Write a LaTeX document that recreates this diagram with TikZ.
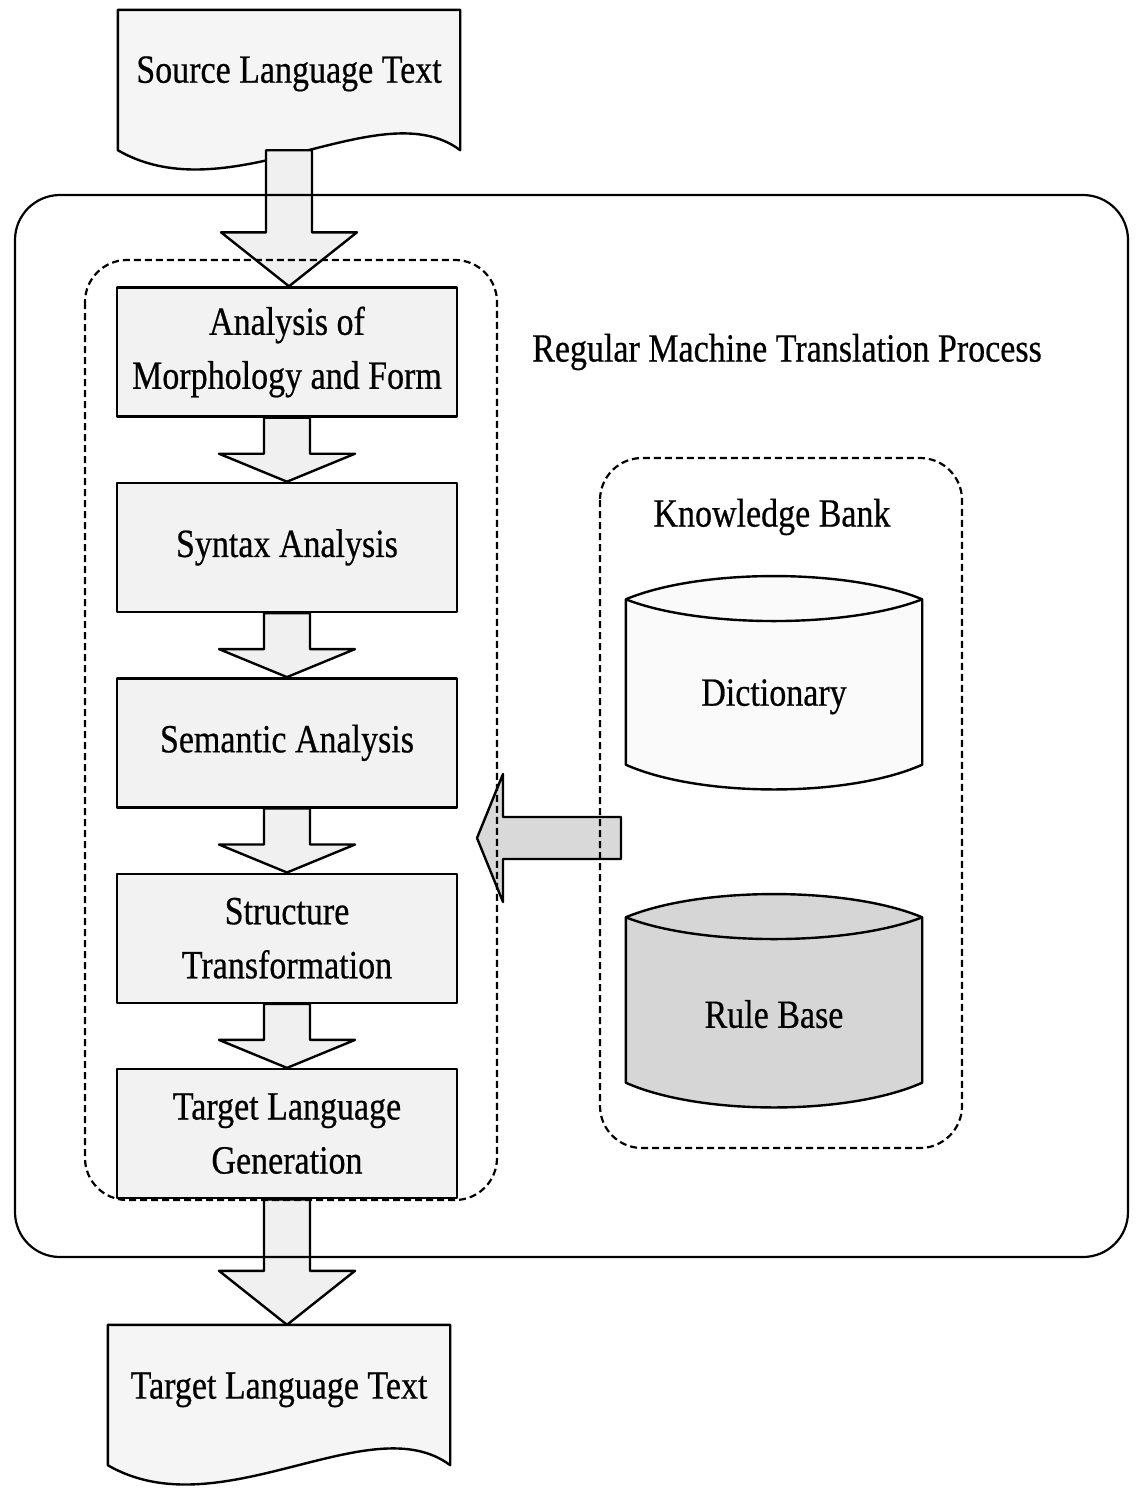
\documentclass[tikz,border=0pt]{standalone}
\usepackage{fontspec}
\setmainfont{Liberation Serif}[FakeStretch=0.85, FakeBold=0.5]
\usetikzlibrary{positioning,calc,backgrounds}

% block arrow pointing down: from, to, head length
\newcommand{\blockdown}[3]{%
  \draw[blockarrow] let \p1=(#1), \p2=(#2) in
    (\x1-23pt,\y1) -- (\x1-23pt,\y2+#3pt) -- (\x1-68pt,\y2+#3pt) -- (\x1,\y2)
    -- (\x1+68pt,\y2+#3pt) -- (\x1+23pt,\y2+#3pt) -- (\x1+23pt,\y1) -- cycle;}

% block arrow pointing left: style, from, to, head length
\newcommand{\blockleft}[4]{%
  \draw[blockarrow,#1] let \p1=(#2), \p2=(#3) in
    (\x1,\y1+21pt) -- (\x2+#4pt,\y1+21pt) -- (\x2+#4pt,\y1+64pt) -- (\x2,\y1)
    -- (\x2+#4pt,\y1-64pt) -- (\x2+#4pt,\y1-21pt) -- (\x1,\y1-21pt) -- cycle;}

% drum (stored data) round a node: node, fill
\newcommand{\drum}[2]{%
  \draw[outline, fill=#2] (#1.north west) .. controls +(74,-31) and +(-74,-31) .. (#1.north east)
    -- (#1.south east) .. controls +(-74,33) and +(74,33) .. (#1.south west) -- cycle;
  \draw[outline] (#1.north west) .. controls +(74,29) and +(-74,29) .. (#1.north east);}

\begin{document}
\begin{tikzpicture}[x=1pt, y=-1pt, node distance=64pt,
    every node/.style={font=\fontsize{40}{54}\selectfont},
    outline/.style={draw, line width=2.4pt, line join=round},
    process/.style={outline, fill=gray!10, minimum width=340pt, minimum height=129pt, align=center},
    docshape/.style={minimum width=342pt, minimum height=140pt, inner sep=0pt},
    drumshape/.style={minimum width=296pt, minimum height=165pt, inner sep=0pt},
    blockarrow/.style={outline, fill=gray!12},
    frame/.style={draw, line width=2.2pt, rounded corners=45pt},
    group/.style={draw, line width=2.2pt, dash pattern=on 7pt off 4pt, rounded corners=42pt}]
    \useasboundingbox (0,0) rectangle (1140,1489);

    % Nodes {src, processing steps, tgt}
    \node [docshape, text depth=21pt]   (src)      at (289,80)   {Source Language Text};
    \node [process]                     (morph)    at (287,352)  {Analysis of\\Morphology and Form};
    \node [process, below=of morph]     (syntax)                 {Syntax Analysis};
    \node [process, below=of syntax]    (semantic)               {Semantic Analysis};
    \node [process, below=of semantic]  (struct)                 {Structure\\Transformation};
    \node [process, below=of struct]    (gen)                    {Target Language\\Generation};
    \node [docshape, text depth=19pt]   (tgt)      at (279,1395) {Target Language Text};

    % Knowledge bank
    \node                               (title)    at (787,352)  {Regular Machine Translation Process};
    \node                               (kbtitle)  at (772,517)  {Knowledge Bank};
    \node [drumshape, text height=56pt] (dict)     at (774,682)  {Dictionary};
    \node [drumshape, text height=56pt] (rules)    at (774,1000) {Rule Base};
    \coordinate (kbout) at (621,838);
    \coordinate (kbin)  at (477,838);

    % Outlines behind the texts
    \begin{scope}[on background layer]
    \draw [outline, fill=gray!8] (src.north west) -- (src.north east) -- (src.south east)
        .. controls +(-80,-60) and +(112,65) .. (src.south west) -- cycle;
    \draw [outline, fill=gray!8] (tgt.north west) -- (tgt.north east) -- (tgt.south east)
        .. controls +(-80,-60) and +(112,65) .. (tgt.south west) -- cycle;
    \drum{dict}{gray!4}
    \drum{rules}{gray!32}
    \end{scope}

    % Paths
    \blockdown{src.south}{morph.north}{54}
    \blockdown{morph.south}{syntax.north}{28}
    \blockdown{syntax.south}{semantic.north}{28}
    \blockdown{semantic.south}{struct.north}{28}
    \blockdown{struct.south}{gen.north}{28}
    \blockdown{gen.south}{tgt.north}{54}
    \blockleft{fill=gray!30}{kbout}{kbin}{26}

    % Frames
    \draw [frame] (15,195) rectangle (1128,1257);
    \draw [group] (85,260) rectangle (497,1200);
    \draw [group] (600,458) rectangle (962,1148);
\end{tikzpicture}
\end{document}
